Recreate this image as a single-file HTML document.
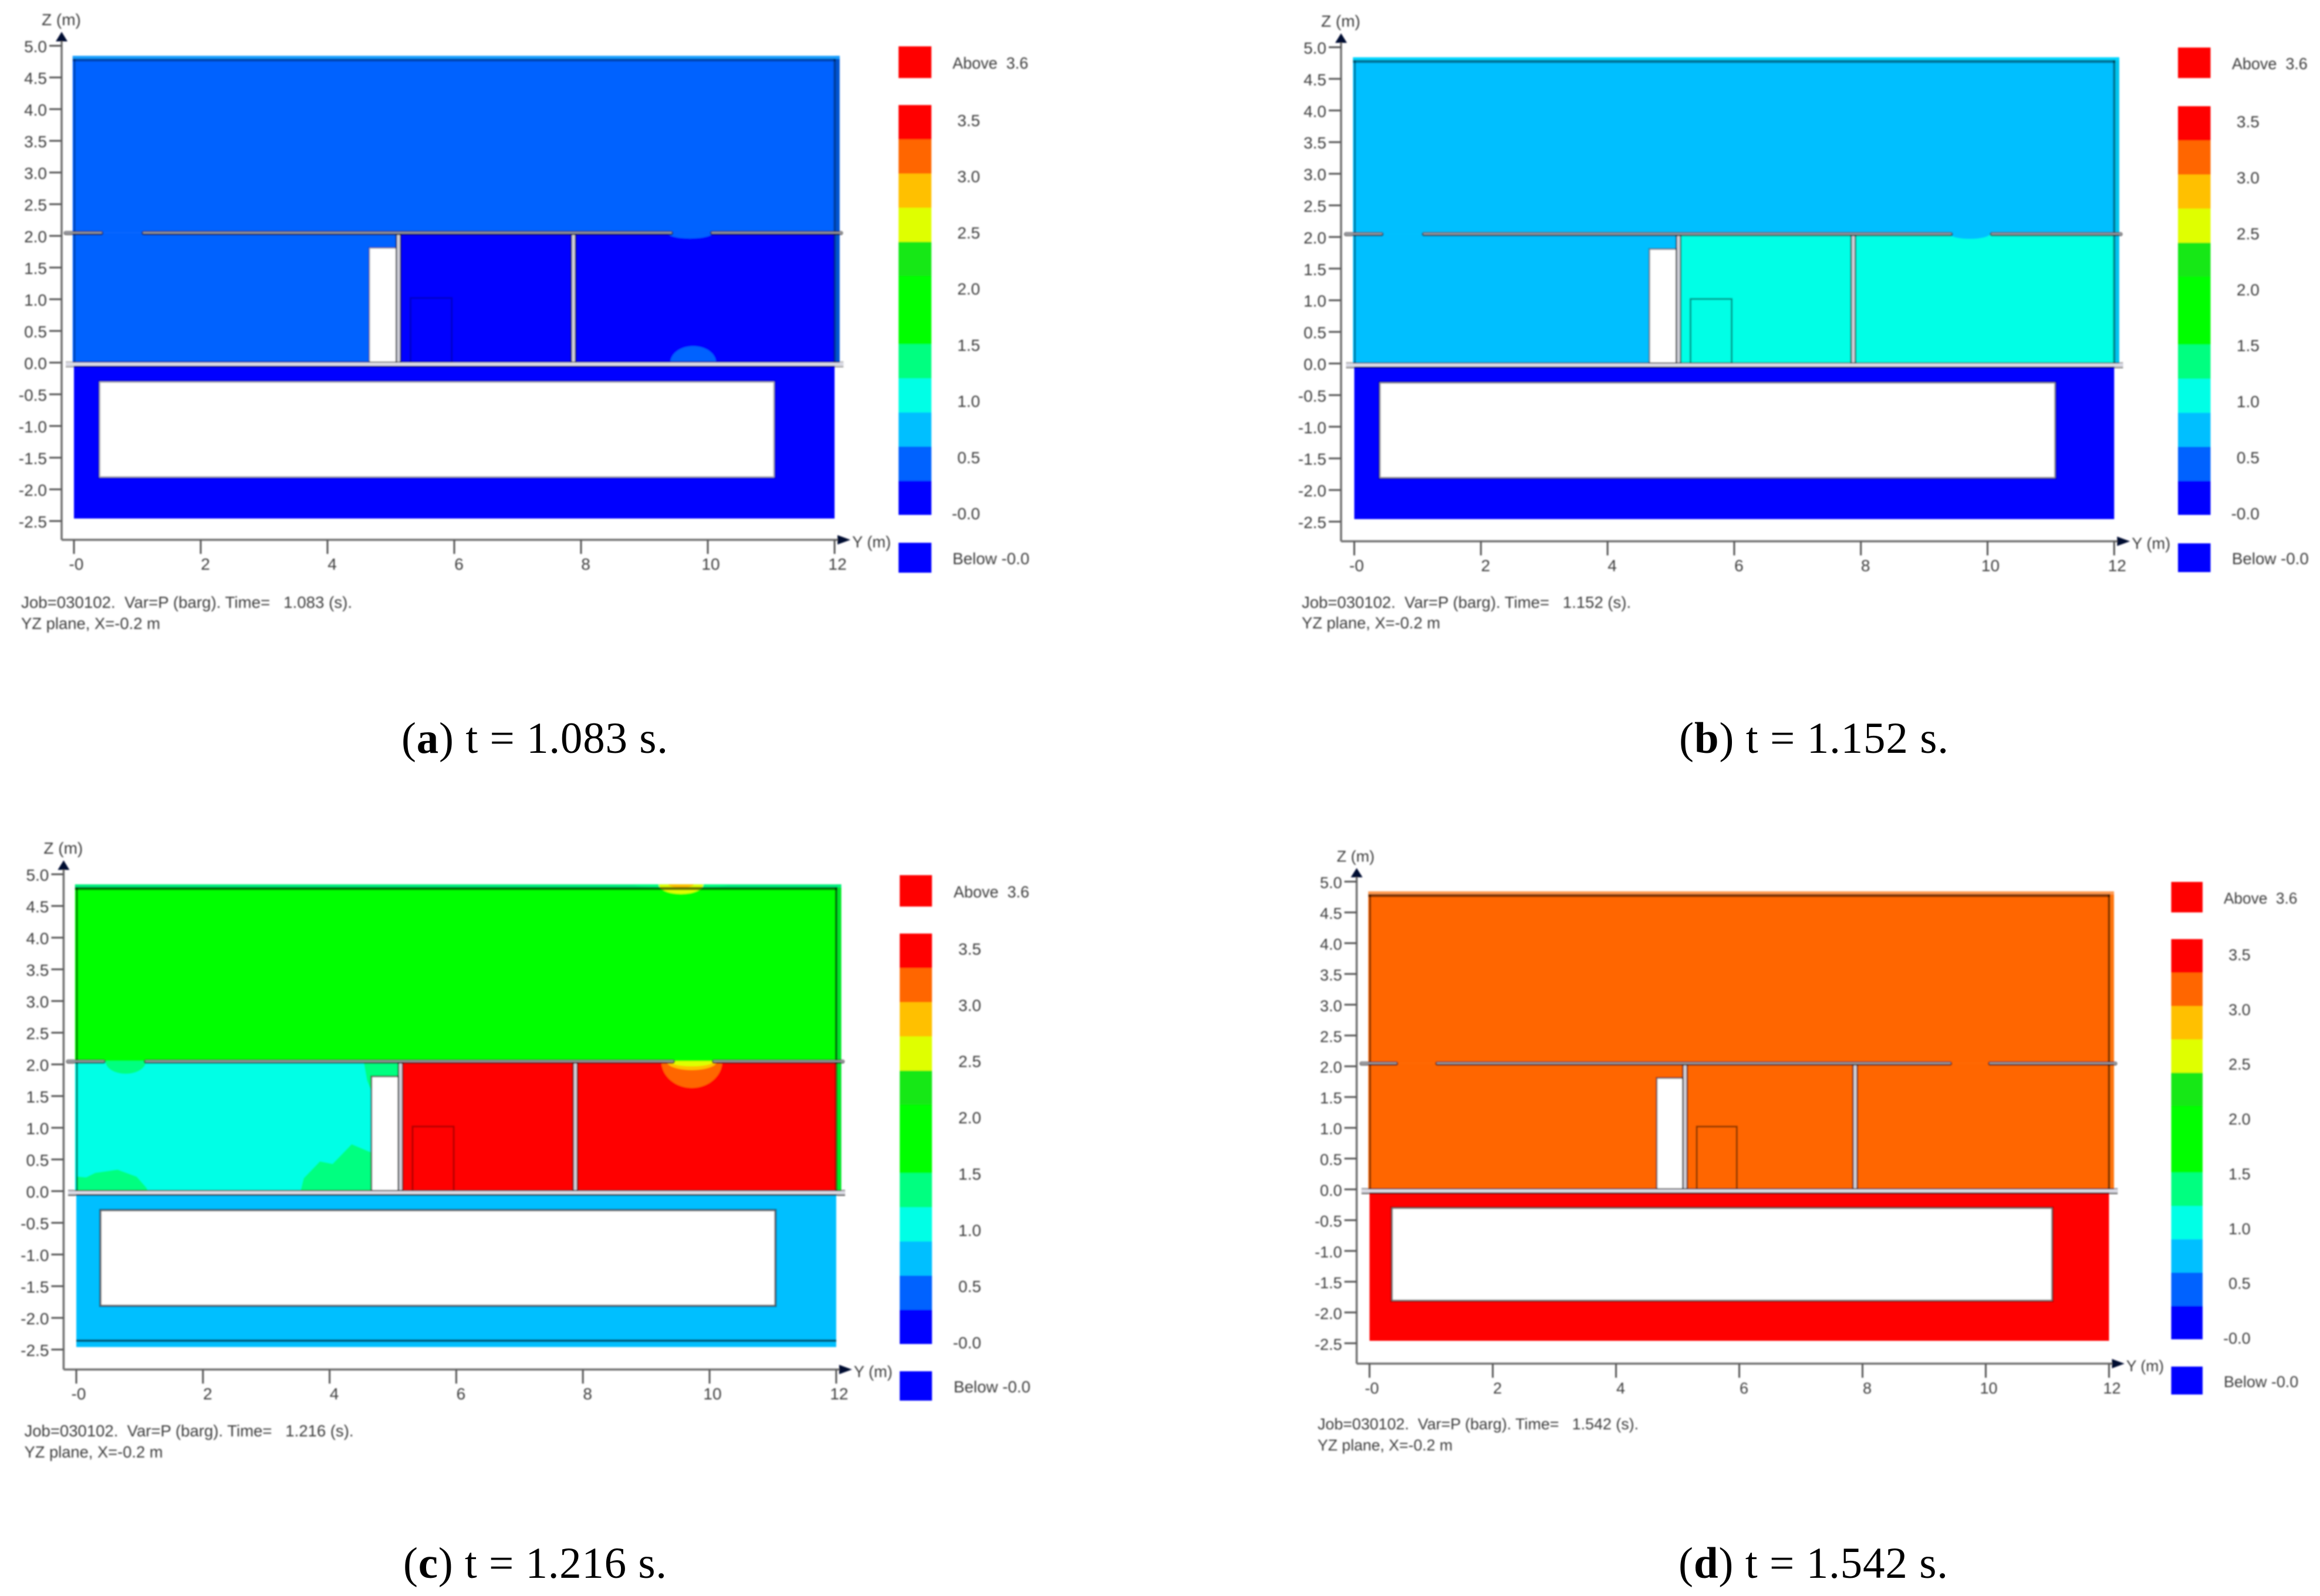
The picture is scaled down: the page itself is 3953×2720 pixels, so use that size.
<!DOCTYPE html>
<html lang="en">
<head>
<meta charset="utf-8">
<title>Pressure contour plots at four time steps</title>
<style>
html,body{margin:0;padding:0;background:#fff;}
svg{display:block;}
.sans{font-family:"Liberation Sans",sans-serif;fill:#3e3e3e;white-space:pre;}
.cap{font-family:"Liberation Serif",serif;font-size:75px;fill:#000;white-space:pre;}
.cap tspan.b{font-weight:bold;}
</style>
</head>
<body>
<svg id="figure" xmlns="http://www.w3.org/2000/svg" width="3953" height="2720" viewBox="0 0 3953 2720">
  <defs>
    <filter id="soft" filterUnits="userSpaceOnUse" x="0" y="0" width="3953" height="2720">
      <feGaussianBlur stdDeviation="1.3"/>
    </filter>
  </defs>
  <rect x="0" y="0" width="3953" height="2720" fill="#ffffff"/>
  <g id="plots" filter="url(#soft)">
    <text class="sans" x="36" y="1036" font-size="28" textLength="564" lengthAdjust="spacingAndGlyphs">Job=030102.  Var=P (barg). Time=   1.083 (s).</text>
    <text class="sans" x="36" y="1072" font-size="28" textLength="237" lengthAdjust="spacingAndGlyphs">YZ plane, X=-0.2 m</text>
    <text class="sans" x="2218" y="1036" font-size="28" textLength="561" lengthAdjust="spacingAndGlyphs">Job=030102.  Var=P (barg). Time=   1.152 (s).</text>
    <text class="sans" x="2218" y="1071" font-size="28" textLength="236" lengthAdjust="spacingAndGlyphs">YZ plane, X=-0.2 m</text>
    <text class="sans" x="41.5" y="2448" font-size="28" textLength="561" lengthAdjust="spacingAndGlyphs">Job=030102.  Var=P (barg). Time=   1.216 (s).</text>
    <text class="sans" x="41.5" y="2484" font-size="28" textLength="236" lengthAdjust="spacingAndGlyphs">YZ plane, X=-0.2 m</text>
    <text class="sans" x="2245" y="2436" font-size="27" textLength="547" lengthAdjust="spacingAndGlyphs">Job=030102.  Var=P (barg). Time=   1.542 (s).</text>
    <text class="sans" x="2245" y="2472" font-size="27" textLength="230" lengthAdjust="spacingAndGlyphs">YZ plane, X=-0.2 m</text>
  </g>
  <text class="cap" x="684" y="1283" textLength="454">(<tspan class="b">a</tspan>) t = 1.083 s.</text>
  <text class="cap" x="2861" y="1283" textLength="459">(<tspan class="b">b</tspan>) t = 1.152 s.</text>
  <text class="cap" x="687" y="2689" textLength="449">(<tspan class="b">c</tspan>) t = 1.216 s.</text>
  <text class="cap" x="2860" y="2689" textLength="459">(<tspan class="b">d</tspan>) t = 1.542 s.</text>
</svg>
<script>
// ---- chart data ----
const panelIds = ['a', 'b', 'c', 'd'];
const upperPressure = [0.45, 0.75, 1.65, 3.15];
const lowerLeftPressure = [0.45, 0.75, 1.05, 3.15];
const roomPressure = [0.15, 1.05, 3.45, 3.15];
const basementPressure = [0.15, 0.15, 0.75, 3.45];

const zTickValues = [5, 4.5, 4, 3.5, 3, 2.5, 2, 1.5, 1, 0.5, 0, -0.5, -1, -1.5, -2, -2.5];
const zTickLabels = ['5.0', '4.5', '4.0', '3.5', '3.0', '2.5', '2.0', '1.5', '1.0', '0.5', '0.0', '-0.5', '-1.0', '-1.5', '-2.0', '-2.5'];
const yTickValues = [0, 2, 4, 6, 8, 10, 12];
const yTickLabels = ['-0', '2', '4', '6', '8', '10', '12'];

const legendTickValues = [3.5, 3, 2.5, 2, 1.5, 1, 0.5, 0];
const legendTickLabels = ['3.5', '3.0', '2.5', '2.0', '1.5', '1.0', '0.5', '-0.0'];
const bandStep = 0.3;
const bandColors = ['#0000ff', '#0062ff', '#00bfff', '#00ffe6', '#00ff80', '#00ff00', '#00ff00', '#12e812', '#dfff00', '#ffc000', '#ff6600', '#ff0000'];

// pressure plumes: panel index, centre (y, z) in metres, radii in metres, pressure, direction
const plumePanel = [0, 0, 1, 2, 2, 2, 2, 2, 2, 2];
const plumeY = [9.77, 9.72, 9.72, 0.78, 9.72, 9.72, 9.72, 9.55, 9.55, 9.55];
const plumeZ = [0, 2.05, 2.05, 2.05, 2.05, 2.05, 2.05, 4.84, 4.84, 4.84];
const plumeRy = [0.36, 0.36, 0.32, 0.32, 0.48, 0.4, 0.35, 0.75, 0.35, 0.2];
const plumeRz = [0.26, 0.09, 0.08, 0.2, 0.42, 0.14, 0.08, 0.06, 0.15, 0.05];
const plumeP = [0.45, 0.45, 0.75, 1.35, 3.15, 2.85, 2.55, 1.35, 2.55, 2.85];
const plumeDir = [1, -1, -1, -1, -1, -1, -1, -1, -1, -1];

// irregular pressure patches in panel c (metres)
const patchOneY = [0.01, 0.01, 0.16, 0.3, 0.65, 0.95, 1.1, 1.12];
const patchOneZ = [0, 0.22, 0.21, 0.28, 0.33, 0.22, 0.05, 0];
const patchTwoY = [3.55, 3.6, 3.85, 4.05, 4.35, 4.66, 4.68];
const patchTwoZ = [0, 0.2, 0.46, 0.42, 0.73, 0.6, 0];
const patchThreeY = [4.55, 5.1, 5.1, 4.66, 4.66, 4.6];
const patchThreeZ = [2.03, 2.03, 1.81, 1.81, 1.6, 1.75];
const patchPressure = 1.35;

// ---- layout ----
const frames = [
  {x0:126, xs:108, z0:618, zs:108, axisX:105, axisY:920, legX:1531, legW:56, aboveTop:79, aboveH:54, barTop:179, barBot:877, belowTop:925, belowH:51, fs:28, line:0.3, doorLine:0.22, tankL:0.40, tankR:11.05, top:'#19a0ff', right:'#0052cf', bottomLine:false},
  {x0:2307.5, xs:107.9, z0:619.5, zs:107.8, axisX:2285, axisY:922.5, legX:3711, legW:55.5, aboveTop:81, aboveH:52, barTop:181, barBot:877, belowTop:926, belowH:49, fs:28, line:0.4, doorLine:0.4, tankL:0.40, tankR:11.07, top:'#00d6ff', right:'#00c4ee', bottomLine:false},
  {x0:130, xs:107.9, z0:2030, zs:108, axisX:108.4, axisY:2334, legX:1533, legW:55, aboveTop:1491.5, aboveH:53.5, barTop:1591, barBot:2290, belowTop:2337, belowH:50, fs:28, line:0.55, doorLine:0.3, tankL:0.38, tankR:11.04, top:'#00f080', right:'#00e828', bottomLine:true},
  {x0:2333.5, xs:105, z0:2027, zs:104.9, axisX:2311.6, axisY:2324, legX:3699.5, legW:53.5, aboveTop:1503, aboveH:52, barTop:1600.5, barBot:2282, belowTop:2329, belowH:47.6, fs:27, line:0.5, doorLine:0.45, tankL:0.36, tankR:11.08, top:'#ff9a50', right:'#ff7408', bottomLine:false}
];
const NS = 'http://www.w3.org/2000/svg';
const root = document.getElementById('plots');

function add(parent, tag, attrs, text) {
  const el = document.createElementNS(NS, tag);
  for (const k in attrs) el.setAttribute(k, attrs[k]);
  if (text !== undefined) el.textContent = text;
  parent.appendChild(el);
  return el;
}
function bandColor(p) {
  const i = Math.max(0, Math.min(bandColors.length - 1, Math.floor(p / bandStep)));
  return bandColors[i];
}

panelIds.forEach(function (id, i) {
  const f = frames[i];
  const sx = function (y) { return f.x0 + y * f.xs; };
  const sz = function (z) { return f.z0 - z * f.zs; };
  const dark = 'rgba(0,0,0,' + f.line + ')';
  const scale = f.xs / 108;

  const g = add(root, 'g', {});
  
  

  // --- zones ---
  const upper = add(g, 'rect', {x: sx(-0.02), y: sz(4.84), width: sx(12.08) - sx(-0.02), height: sz(2.05) - sz(4.84), fill: bandColor(upperPressure[i])});
  
  

  const lowerLeft = add(g, 'rect', {x: sx(-0.02), y: sz(2.05), width: sx(5.12) - sx(-0.02), height: sz(0) - sz(2.05), fill: bandColor(lowerLeftPressure[i])});
  
  

  const room = add(g, 'rect', {x: sx(5.12), y: sz(2.05), width: sx(12.08) - sx(5.12), height: sz(0) - sz(2.05), fill: bandColor(roomPressure[i])});
  
  

  const basement = add(g, 'rect', {x: sx(0), y: sz(-0.05), width: sx(12) - sx(0), height: sz(-2.46) - sz(-0.05), fill: bandColor(basementPressure[i])});
  
  

  // --- right and top edge bands ---
  const rightBand = add(g, 'rect', {x: sx(12), y: sz(4.84), width: sx(12.08) - sx(12), height: sz(0) - sz(4.84), fill: f.right});
  
  

  const topStrip = add(g, 'rect', {x: sx(-0.02), y: sz(4.84), width: sx(12.08) - sx(-0.02), height: 5, fill: f.top});
  
  

  // --- plumes ---
  plumePanel.forEach(function (pi, k) {
    if (pi !== i) return;
    const rx = plumeRy[k] * f.xs;
    const ry = plumeRz[k] * f.zs;
    const sweep = plumeDir[k] > 0 ? 1 : 0;
    const d = 'M' + (sx(plumeY[k]) - rx) + ' ' + sz(plumeZ[k]) + ' A' + rx + ' ' + ry + ' 0 0 ' + sweep + ' ' + (sx(plumeY[k]) + rx) + ' ' + sz(plumeZ[k]) + ' Z';
    const plume = add(g, 'path', {d: d, fill: bandColor(plumeP[k])});
    
    
  });
  if (i === 2) {
    [[patchOneY, patchOneZ], [patchTwoY, patchTwoZ], [patchThreeY, patchThreeZ]].forEach(function (p) {
      const pts = p[0].map(function (y, n) { return sx(y) + ',' + sz(p[1][n]); }).join(' ');
      const patch = add(g, 'polygon', {points: pts, fill: bandColor(patchPressure), stroke: bandColor(patchPressure), 'stroke-width': 2, 'stroke-linejoin': 'round'});
      
      
    });
  }

  // --- edges on the domain ---
  const topLine = add(g, 'line', {x1: sx(-0.02), x2: sx(12.02), y1: sz(4.84) + 7, y2: sz(4.84) + 7, stroke: dark, 'stroke-width': 5});
  
  

  const rightLine = add(g, 'line', {x1: sx(12), x2: sx(12), y1: sz(4.84) + 5, y2: sz(-0.05), stroke: dark, 'stroke-width': 4});
  
  

  const leftLine = add(g, 'line', {x1: sx(0.01), x2: sx(0.01), y1: sz(4.84) + 5, y2: sz(0), stroke: dark, 'stroke-width': 3});
  
  

  if (f.bottomLine) {
    const bottomLine = add(g, 'line', {x1: sx(0), x2: sx(12), y1: sz(-2.36), y2: sz(-2.36), stroke: dark, 'stroke-width': 4});
    
    
  }

  // --- solid blocks ---
  const tank = add(g, 'rect', {x: sx(f.tankL), y: sz(-0.3), width: sx(f.tankR) - sx(f.tankL), height: sz(-1.81) - sz(-0.3), fill: '#ffffff', stroke: dark, 'stroke-width': 4});
  
  

  const cabinet = add(g, 'rect', {x: sx(4.66), y: sz(1.81), width: sx(5.09) - sx(4.66), height: sz(0) - sz(1.81), fill: '#ffffff', stroke: dark, 'stroke-width': 3});
  
  

  const door = add(g, 'rect', {x: sx(5.31), y: sz(1.02), width: sx(5.96) - sx(5.31), height: sz(0) - sz(1.02), fill: 'none', stroke: 'rgba(0,0,0,' + f.doorLine + ')', 'stroke-width': 3});
  
  

  // --- walls ---
  [5.12, 7.88].forEach(function (wy) {
    const wallEdge = add(g, 'line', {x1: sx(wy), x2: sx(wy), y1: sz(2.03), y2: sz(0), stroke: 'rgba(0,0,0,0.6)', 'stroke-width': 10});
    
    
    const wallCore = add(g, 'line', {x1: sx(wy), x2: sx(wy), y1: sz(2.03), y2: sz(0), stroke: '#cfcfd8', 'stroke-width': 5});
    
    
  });
  [[-0.13, 0.43], [1.1, 9.42], [10.07, 12.1]].forEach(function (seg) {
    const ceilDark = add(g, 'line', {x1: sx(seg[0]), x2: sx(seg[1]), y1: sz(2.045), y2: sz(2.045), stroke: 'rgba(0,0,0,0.65)', 'stroke-width': 7, 'stroke-linecap': 'round'});
    
    
    const ceil = add(g, 'line', {x1: sx(seg[0]), x2: sx(seg[1]), y1: sz(2.05), y2: sz(2.05), stroke: '#9a9aa0', 'stroke-width': 3, 'stroke-linecap': 'round'});
    
    
  });
  const floorEdge = add(g, 'rect', {x: sx(-0.13), y: sz(0) - 2, width: sx(12.14) - sx(-0.13), height: 10, fill: 'rgba(0,0,0,' + (f.line + 0.15) + ')'});
  
  
  const floorSlab = add(g, 'rect', {x: sx(-0.13), y: sz(0), width: sx(12.14) - sx(-0.13), height: 5, fill: '#dcdce6'});
  
  

  // --- axes ---
  const zAxis = add(g, 'line', {x1: f.axisX, x2: f.axisX, y1: sz(5.1), y2: f.axisY, stroke: '#6e6e6e', 'stroke-width': 3.5});
  
  
  const yAxis = add(g, 'line', {x1: f.axisX, x2: sx(12.05), y1: f.axisY, y2: f.axisY, stroke: '#6e6e6e', 'stroke-width': 3.5});
  
  

  const zTip = sz(5.22);
  const zBase = sz(5.07);
  const zArrow = add(g, 'polygon', {points: f.axisX + ',' + zTip + ' ' + (f.axisX - 10) + ',' + zBase + ' ' + (f.axisX + 10) + ',' + zBase, fill: '#000a30'});
  
  
  const yBase = sx(12) + 5;
  const yTip = yBase + 22 * scale;
  const yArrow = add(g, 'polygon', {points: yTip + ',' + f.axisY + ' ' + yBase + ',' + (f.axisY - 8) + ' ' + yBase + ',' + (f.axisY + 8), fill: '#000a30'});
  
  

  const zTitle = add(g, 'text', {x: f.axisX - 34, y: sz(5.4) + 8, 'font-size': f.fs, 'class': 'sans'}, 'Z (m)');
  
  
  const yTitle = add(g, 'text', {x: yTip + 3, y: f.axisY + 13, 'font-size': f.fs, 'class': 'sans', textLength: 66 * scale, lengthAdjust: 'spacingAndGlyphs'}, 'Y (m)');
  
  

  zTickValues.forEach(function (v, n) {
    const tick = add(g, 'line', {x1: f.axisX - 21, x2: f.axisX, y1: sz(v), y2: sz(v), stroke: '#555', 'stroke-width': 3});
    
    
    const label = add(g, 'text', {x: f.axisX - 25, y: sz(v) + 11, 'font-size': f.fs, 'text-anchor': 'end', 'class': 'sans'}, zTickLabels[n]);
    
    
  });
  yTickValues.forEach(function (v, n) {
    const tick = add(g, 'line', {x1: sx(v), x2: sx(v), y1: f.axisY, y2: f.axisY + 24, stroke: '#555', 'stroke-width': 3});
    
    
    const label = add(g, 'text', {x: sx(v) + (v === 0 ? 4 : (v >= 10 ? 5 : 8)), y: f.axisY + 51, 'font-size': f.fs, 'text-anchor': 'middle', 'class': 'sans'}, yTickLabels[n]);
    
    
  });

  // --- legend ---
  const aboveSwatch = add(g, 'rect', {x: f.legX, y: f.aboveTop, width: f.legW, height: f.aboveH, fill: bandColors[bandColors.length - 1]});
  
  
  const aboveLabel = add(g, 'text', {x: f.legX + 92 * scale, y: f.aboveTop + f.aboveH / 2 + 11, 'font-size': f.fs, 'class': 'sans', textLength: 129 * scale, lengthAdjust: 'spacingAndGlyphs'}, 'Above  3.6');
  
  

  const bandH = (f.barBot - f.barTop) / bandColors.length;
  bandColors.forEach(function (c, n) {
    const band = add(g, 'rect', {x: f.legX, y: f.barBot - (n + 1) * bandH, width: f.legW, height: bandH + 0.5, fill: c});
    
    
  });
  legendTickValues.forEach(function (v, n) {
    const ly = f.barBot - 2 - v / 3.5 * (f.barBot - f.barTop - 28);
    const label = add(g, 'text', {x: f.legX + 139 * scale, y: ly + 10, 'font-size': f.fs, 'text-anchor': 'end', 'class': 'sans'}, legendTickLabels[n]);
    
    
  });

  const belowSwatch = add(g, 'rect', {x: f.legX, y: f.belowTop, width: f.legW, height: f.belowH, fill: bandColors[0]});
  
  
  const belowLabel = add(g, 'text', {x: f.legX + 92 * scale, y: f.belowTop + f.belowH / 2 + 11, 'font-size': f.fs, 'class': 'sans', textLength: 131 * scale, lengthAdjust: 'spacingAndGlyphs'}, 'Below -0.0');
  
  
});
</script>
</body>
</html>
